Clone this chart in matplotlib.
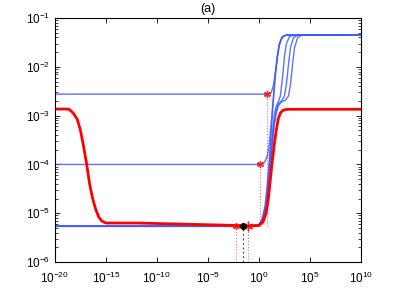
#!/usr/bin/env python3

import matplotlib
matplotlib.use('Agg')
import matplotlib.pyplot as plt
from matplotlib.ticker import LogLocator, NullFormatter, FixedLocator
import numpy as np

# curves as (log10 x, log10 y) points
red_logx = [-20, -19, -18.6, -18.2, -17.8, -17.5, -17.2, -16.9, -16.6, -16.3, -16.0,
            -15.7, -15.4, -15.0, -14.5, -12, -8, -4, -1, 0.0, 0.4, 0.7, 0.9, 1.1,
            1.3, 1.5, 1.7, 1.9, 2.1, 2.3, 2.6, 3.0, 10]
red_logy = [-2.865, -2.865, -2.87, -2.95, -3.08, -3.3, -3.62, -3.98, -4.4, -4.7, -4.92,
            -5.08, -5.16, -5.2, -5.2, -5.2, -5.22, -5.24, -5.26, -5.25, -5.18, -5.0, -4.75, -4.35,
            -3.95, -3.6, -3.3, -3.06, -2.95, -2.9, -2.875, -2.87, -2.87]

blue_curves = [
    # from the 2.7e-3 line
    ([-20, 0.75, 1.2, 1.4, 1.6, 1.8, 2.0, 2.2, 2.5, 2.8, 10],
     [-2.56, -2.56, -2.53, -2.4, -2.15, -1.82, -1.56, -1.42, -1.36, -1.345, -1.345]),
    # from the 1e-4 line
    ([-20, 0.1, 0.5, 0.8, 1.0, 1.2, 1.4, 1.6, 1.8, 2.0, 2.3, 2.7, 10],
     [-4.0, -4.0, -3.97, -3.85, -3.6, -3.15, -2.65, -2.18, -1.8, -1.55, -1.39, -1.35, -1.345]),
    # from the bottom level
    ([-20, -1, 0.0, 0.3, 0.6, 0.8, 1.0, 1.2, 1.4, 1.6, 1.8, 2.0, 2.3, 2.7, 10],
     [-5.26, -5.26, -5.24, -5.12, -4.85, -4.45, -3.95, -3.35, -2.75, -2.2, -1.78, -1.52, -1.38, -1.35, -1.345]),
    ([-20, -1, 0.0, 0.4, 0.7, 0.9, 1.1, 1.3, 1.5, 1.7, 1.9, 2.1, 2.3, 2.5, 2.7, 3.0, 3.4, 10],
     [-5.26, -5.26, -5.24, -5.1, -4.8, -4.4, -3.9, -3.4, -3.0, -2.8, -2.72, -2.6, -2.25, -1.8, -1.52, -1.38, -1.35, -1.345]),
    ([-20, -1, 0.0, 0.4, 0.7, 0.9, 1.1, 1.3, 1.5, 1.7, 1.9, 2.2, 2.5, 2.7, 2.9, 3.1, 3.4, 3.8, 10],
     [-5.26, -5.26, -5.24, -5.12, -4.85, -4.5, -4.05, -3.55, -3.15, -2.9, -2.76, -2.7, -2.6, -2.35, -1.95, -1.6, -1.4, -1.35, -1.345]),
    ([-20, -1, 0.0, 0.4, 0.7, 0.9, 1.1, 1.3, 1.5, 1.7, 1.9, 2.2, 2.6, 2.9, 3.1, 3.3, 3.5, 3.8, 4.2, 10],
     [-5.27, -5.27, -5.25, -5.14, -4.9, -4.55, -4.1, -3.6, -3.2, -2.95, -2.8, -2.72, -2.68, -2.6, -2.35, -1.95, -1.6, -1.4, -1.35, -1.345]),
]

# markers (log10 x, log10 y)
star_logx = [0.75, 0.1, -2.25, -1.1]
star_logy = [-2.56, -4.0, -5.26, -5.26]
star_size = [5, 5, 5, 7]
black_logx = -1.6
black_logy = -5.26


def main():
    plt.rcParams['font.family'] = ['Liberation Sans', 'DejaVu Sans']
    plt.rcParams['mathtext.default'] = 'regular'
    fig = plt.figure(figsize=(4.01, 2.88), dpi=100)
    ax = fig.add_axes([0.137, 0.090, 0.763, 0.8475])

    blue = (0.25, 0.35, 1.0)
    for lx, ly in blue_curves:
        ax.plot(10.0 ** np.array(lx), 10.0 ** np.array(ly), color=blue, lw=1.0, alpha=0.85)

    ax.plot(10.0 ** np.array(red_logx), 10.0 ** np.array(red_logy), color='red', lw=2.0)

    # dotted drop lines
    for i, (lx, ly) in enumerate(zip(star_logx, star_logy)):
        bottom = 10 ** -5.26 if i < 2 else 1e-6
        ax.plot([10 ** lx, 10 ** lx], [bottom, 10 ** ly], ls=':', color='red', lw=0.8, alpha=0.6)
    ax.plot([10 ** black_logx] * 2, [1e-6, 10 ** black_logy], ls='--', color='black', lw=0.8,
            dashes=(1.5, 2.5), alpha=0.8)

    for lx, ly, s in zip(star_logx, star_logy, star_size):
        ax.plot(10 ** lx, 10 ** ly, marker=(6, 2, 0), color='red', ms=s, mew=1.0, alpha=0.85)
    ax.plot(10 ** black_logx, 10 ** black_logy, marker='o', color='black', ms=4)

    ax.set_xscale('log')
    ax.set_yscale('log')
    ax.set_xlim(1e-20, 1e10)
    ax.set_ylim(1e-6, 1e-1)
    ax.xaxis.set_major_locator(FixedLocator([10.0 ** k for k in range(-20, 11, 5)]))
    ax.xaxis.set_minor_locator(FixedLocator([]))
    ax.yaxis.set_major_locator(LogLocator(base=10, numticks=10))
    ax.yaxis.set_minor_locator(LogLocator(base=10, subs=np.arange(2, 10), numticks=20))
    ax.yaxis.set_minor_formatter(NullFormatter())
    ax.tick_params(which='both', direction='in', top=True, right=True, labelsize=8.5)
    ax.tick_params(which='major', length=3.5, width=0.6)
    ax.tick_params(which='minor', length=2, width=0.5)
    ax.tick_params(axis='x', pad=6)
    for sp in ax.spines.values():
        sp.set_linewidth(0.8)
    ax.set_title('(a)', fontsize=9, pad=4)

    fig.savefig('out.png', dpi=100)
    plt.close(fig)


if __name__ == '__main__':
    main()
